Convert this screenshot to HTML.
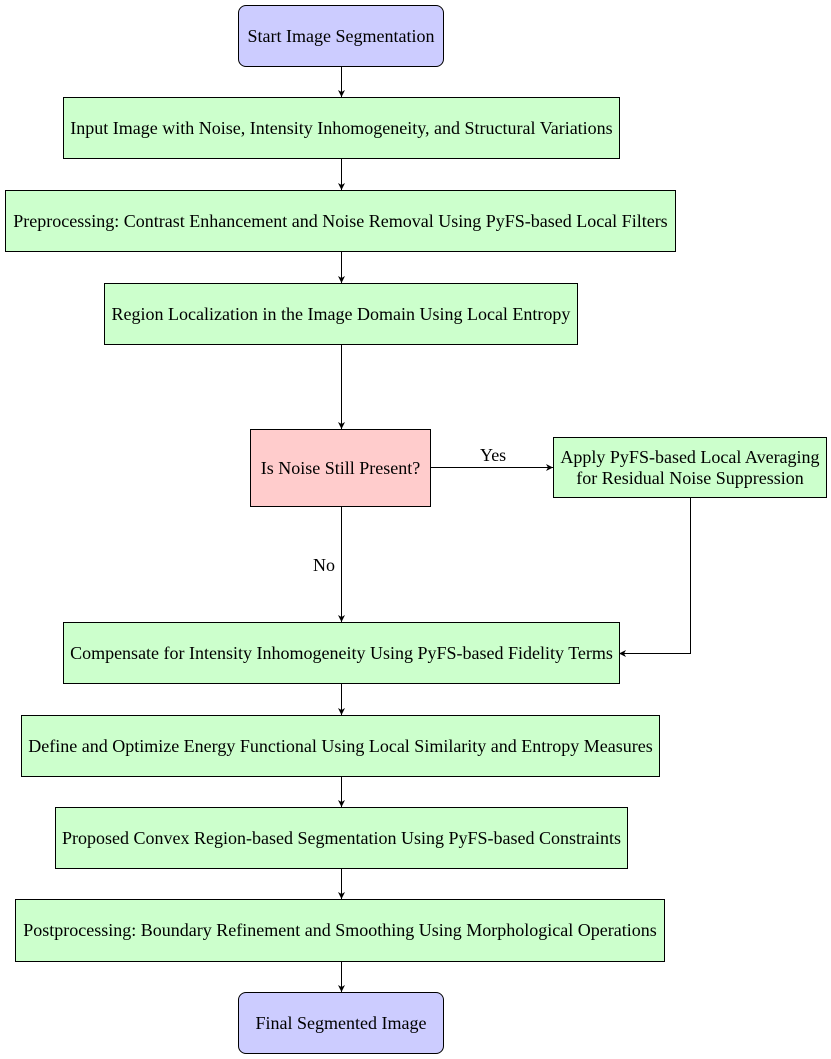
<!DOCTYPE html>
<html><head><style>
body{margin:0;background:#fff;width:831px;height:1059px;position:relative;overflow:hidden;font-family:"Liberation Serif",serif;font-size:18px;color:#000}
.b{position:absolute;box-sizing:border-box;border:1px solid #000;display:flex;align-items:center;justify-content:center;text-align:center;line-height:21px;background:#ccffcc;white-space:nowrap}
.r{background:#ccccff;border-radius:8px}
.t{position:absolute;font-size:18px}
</style></head><body>
<svg width="831" height="1059" style="position:absolute;left:0;top:0">
<defs><marker id="a" markerWidth="8" markerHeight="8" refX="7" refY="4" orient="auto" markerUnits="userSpaceOnUse"><path d="M0,0.5 L7,4 L0,7.5 L2,4z" fill="#000"/></marker></defs>
<g stroke="#000" stroke-width="1" fill="none">
<line x1="341.5" y1="66" x2="341.5" y2="97" marker-end="url(#a)"/>
<line x1="341.5" y1="158" x2="341.5" y2="190" marker-end="url(#a)"/>
<line x1="341.5" y1="251" x2="341.5" y2="283" marker-end="url(#a)"/>
<line x1="341.5" y1="344" x2="341.5" y2="429" marker-end="url(#a)"/>
<line x1="430" y1="467.5" x2="553" y2="467.5" marker-end="url(#a)"/>
<line x1="341.5" y1="506" x2="341.5" y2="622" marker-end="url(#a)"/>
<polyline points="690.5,497 690.5,653.5 619,653.5" marker-end="url(#a)"/>
<line x1="341.5" y1="683" x2="341.5" y2="715" marker-end="url(#a)"/>
<line x1="341.5" y1="776" x2="341.5" y2="807" marker-end="url(#a)"/>
<line x1="341.5" y1="868" x2="341.5" y2="899" marker-end="url(#a)"/>
<line x1="341.5" y1="961" x2="341.5" y2="992" marker-end="url(#a)"/>
</g></svg>
<div class="b r" style="left:238px;top:5px;width:206px;height:62px">Start Image Segmentation</div>
<div class="b" style="left:63px;top:97px;width:557px;height:62px">Input Image with Noise, Intensity Inhomogeneity, and Structural Variations</div>
<div class="b" style="left:5px;top:190px;width:671px;height:62px">Preprocessing: Contrast Enhancement and Noise Removal Using PyFS-based Local Filters</div>
<div class="b" style="left:104px;top:283px;width:474px;height:62px">Region Localization in the Image Domain Using Local Entropy</div>
<div class="b" style="left:250px;top:429px;width:181px;height:78px;background:#ffcccc">Is Noise Still Present?</div>
<div class="b" style="left:553px;top:437px;width:274px;height:61px">Apply PyFS-based Local Averaging<br>for Residual Noise Suppression</div>
<div class="b" style="left:63px;top:622px;width:557px;height:62px">Compensate for Intensity Inhomogeneity Using PyFS-based Fidelity Terms</div>
<div class="b" style="left:21px;top:715px;width:639px;height:62px">Define and Optimize Energy Functional Using Local Similarity and Entropy Measures</div>
<div class="b" style="left:55px;top:807px;width:573px;height:62px">Proposed Convex Region-based Segmentation Using PyFS-based Constraints</div>
<div class="b" style="left:15px;top:899px;width:650px;height:63px">Postprocessing: Boundary Refinement and Smoothing Using Morphological Operations</div>
<div class="b r" style="left:238px;top:992px;width:206px;height:62px">Final Segmented Image</div>
<div class="t" style="left:480px;top:445px">Yes</div>
<div class="t" style="left:313px;top:555px">No</div>
</body></html>
